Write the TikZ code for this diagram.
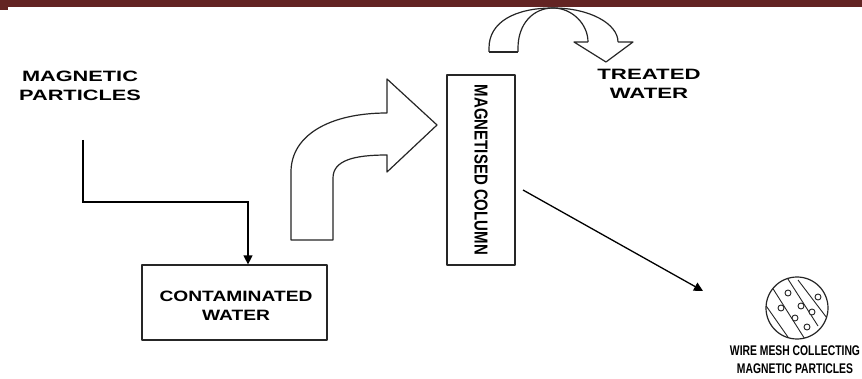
\documentclass[tikz,border=0pt]{standalone}
\usepackage{fontspec}
\setmainfont{Liberation Sans}
\usepackage{graphicx}
\usetikzlibrary{arrows.meta}
\definecolor{barred}{RGB}{99,36,35}
% wide bold two-line caption, stretched horizontally
\newcommand{\wlabel}[3]{\scalebox{#1}[1]{\begin{tabular}{@{}c@{}}#2\\#3\end{tabular}}}
\tikzset{
  outline/.style={draw=black!85, line width=1.2pt, line join=round},
  label/.style={font=\bfseries\fontsize{15}{18}\selectfont, inner sep=0pt, align=center},
  flow/.style={draw=black, line width=1.3pt, -{Triangle[length=9pt,width=9pt]}},
  wire/.style={draw=black!85, line width=0.9pt}
}
\begin{document}
\begin{tikzpicture}[x=1pt,y=-1pt]
\renewcommand{\arraystretch}{1.05}
\useasboundingbox (0,0) rectangle (862,379);
\fill[white] (0,0) rectangle (862,379);
% header bar
\fill[barred] (0,0) rectangle (862,7.5);
\fill[barred] (0,0) rectangle (8,10);

% inputs
\node[label] (mp) at (80,87) {\wlabel{1.45}{MAGNETIC}{PARTICLES}};
\coordinate (mpstart) at (83,140);
\node[outline, minimum width=185pt, minimum height=75pt] (cw) at (234.5,302.5) {};
\node[label] at (236,307) {\wlabel{1.28}{CONTAMINATED}{WATER}};
\draw[flow] (mpstart) |- (248,202) -- (cw.north -| 248,0);

% magnetised column
\node[outline, minimum width=68pt, minimum height=190pt] (col) at (481,170) {};
\node[label, rotate=-90] at (col.center) {\scalebox{1}[1.25]{MAGNETISED COLUMN}};

% bent block arrow into the column
\draw[outline, fill=white]
  (291,240) -- (291,172)
  .. controls (291,135) and (330,113) .. (387,113)
  -- (387,79) -- (437,125) -- (387,172) -- (387,155)
  .. controls (355,155) and (333,160) .. (333,178)
  -- (333,240) -- cycle;

% U-turn block arrow over the column
\draw[outline]
  (489,52) -- (489,48)
  .. controls (489,22) and (515,8) .. (553,8)
  .. controls (590,8) and (618,24) .. (618,42);
\draw[outline]
  (518,52) -- (518,48)
  .. controls (518,24) and (533,8) .. (553,8)
  .. controls (572,8) and (588,24) .. (588,42);
\draw[outline] (489,52) -- (518,52);
\draw[outline] (588,42) -- (574,42) -- (606,62) -- (633,42) -- (618,42);
\node[label] (tw) at (649,85) {\wlabel{1.48}{TREATED}{WATER}};

% wire mesh
\node[draw=black!85, line width=1.2pt, circle, minimum size=62pt, inner sep=0pt] (mesh) at (797,308) {};
\coordinate (cstart) at (523,190);
\coordinate (cend) at (703,291);
\draw[flow] (cstart) -- (cend);
\begin{scope}
  \clip (mesh.center) circle (31pt);
  \draw[wire] (770,284) -- (808,344);
  \draw[wire] (786,276) -- (818,326);
  \draw[wire] (762,300) -- (790,340);
  \draw[wire] (798,280) -- (830,322);
\end{scope}
\foreach \p in {(788,293),(801,306),(812,312),(795,318),(818,297),(781,308),(807,327)}
  \draw[wire, fill=white] \p circle (3pt);
\node[label, font=\bfseries\fontsize{14}{16.5}\selectfont] (wm) at (795,361) {\wlabel{0.74}{WIRE MESH COLLECTING}{MAGNETIC PARTICLES}};
\end{tikzpicture}
\end{document}
